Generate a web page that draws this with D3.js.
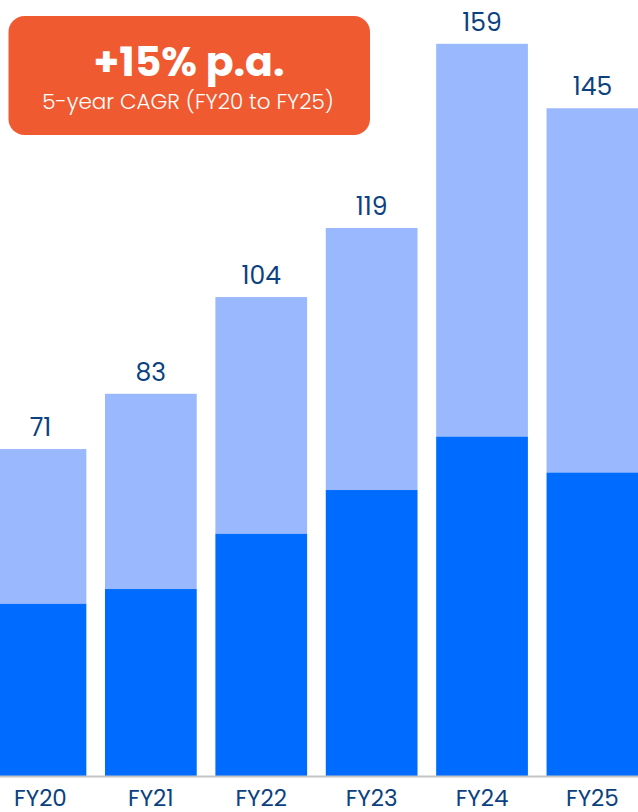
<!DOCTYPE html>
<html>
<head>
<meta charset="utf-8">
<script src="https://cdn.jsdelivr.net/npm/d3@7/dist/d3.min.js"></script>
<style>
  html, body { margin: 0; padding: 0; background: #ffffff; }
  svg { display: block; }
</style>
</head>
<body>
<svg id="chart" width="638" height="812"></svg>
<script>
const categories = ["FY20", "FY21", "FY22", "FY23", "FY24", "FY25"];
const totals = [71, 83, 104, 119, 159, 145];
const bottomValues = [37.4, 40.6, 52.6, 62.1, 73.7, 65.9];
const badgeTitle = "+15% p.a.";
const badgeSubtitle = "5-year CAGR (FY20 to FY25)";

const W = 638, H = 812;
const baseline = 776;
const svg = d3.select("#chart");
const font = "Poppins, Inter, 'Noto Sans', sans-serif";
const textColor = "#0b417f";

const x = d3.scaleBand()
  .domain(categories)
  .range([-5.4, 638.3])
  .paddingInner(0.169)
  .paddingOuter(0);

const y = d3.scaleLinear()
  .domain([0, 159])
  .range([baseline, baseline - 159 * 4.605]);

const data = categories.map((c, i) => ({ cat: c, total: totals[i], bottom: bottomValues[i] }));

// top (light) segment
svg.append("g").selectAll("rect").data(data).join("rect")
  .attr("x", d => x(d.cat))
  .attr("width", x.bandwidth())
  .attr("y", d => y(d.total))
  .attr("height", d => y(d.bottom) - y(d.total))
  .attr("fill", "#99b8fd");

// bottom (dark) segment
svg.append("g").selectAll("rect").data(data).join("rect")
  .attr("x", d => x(d.cat))
  .attr("width", x.bandwidth())
  .attr("y", d => y(d.bottom))
  .attr("height", d => y(0) - y(d.bottom))
  .attr("fill", "#006bff");

// value labels
svg.append("g").selectAll("text").data(data).join("text")
  .attr("x", d => x(d.cat) + x.bandwidth() / 2)
  .attr("y", d => y(d.total) - 13)
  .attr("text-anchor", "middle")
  .attr("font-family", font)
  .attr("font-size", 25)
  .attr("fill", textColor)
  .text(d => d.total);

// x axis
const xAxis = d3.axisBottom(x).tickSize(0).tickPadding(0);
const gx = svg.append("g")
  .attr("transform", `translate(0,${baseline})`)
  .call(xAxis);
gx.select(".domain").remove();
gx.append("line")
  .attr("x1", 0).attr("x2", W)
  .attr("y1", 0.5).attr("y2", 0.5)
  .attr("stroke", "#c4c4c4")
  .attr("stroke-width", 2);
gx.selectAll(".tick text")
  .attr("font-family", font)
  .attr("font-size", 23)
  .attr("fill", textColor)
  .attr("dy", null)
  .attr("y", 29.5);

// badge
const badge = svg.append("g");
badge.append("rect")
  .attr("x", 8.5).attr("y", 16)
  .attr("width", 361.5).attr("height", 119)
  .attr("rx", 16).attr("ry", 16)
  .attr("fill", "#f05a30");
badge.append("text")
  .attr("x", 189).attr("y", 76)
  .attr("text-anchor", "middle")
  .attr("font-family", font)
  .attr("font-weight", 700)
  .attr("font-size", 41)
  .attr("fill", "#ffffff")
  .text(badgeTitle);
badge.append("text")
  .attr("x", 188).attr("y", 108.5)
  .attr("text-anchor", "middle")
  .attr("font-family", font)
  .attr("font-weight", 300)
  .attr("font-size", 21.5)
  .attr("fill", "#ffffff")
  .text(badgeSubtitle);
</script>
</body>
</html>
